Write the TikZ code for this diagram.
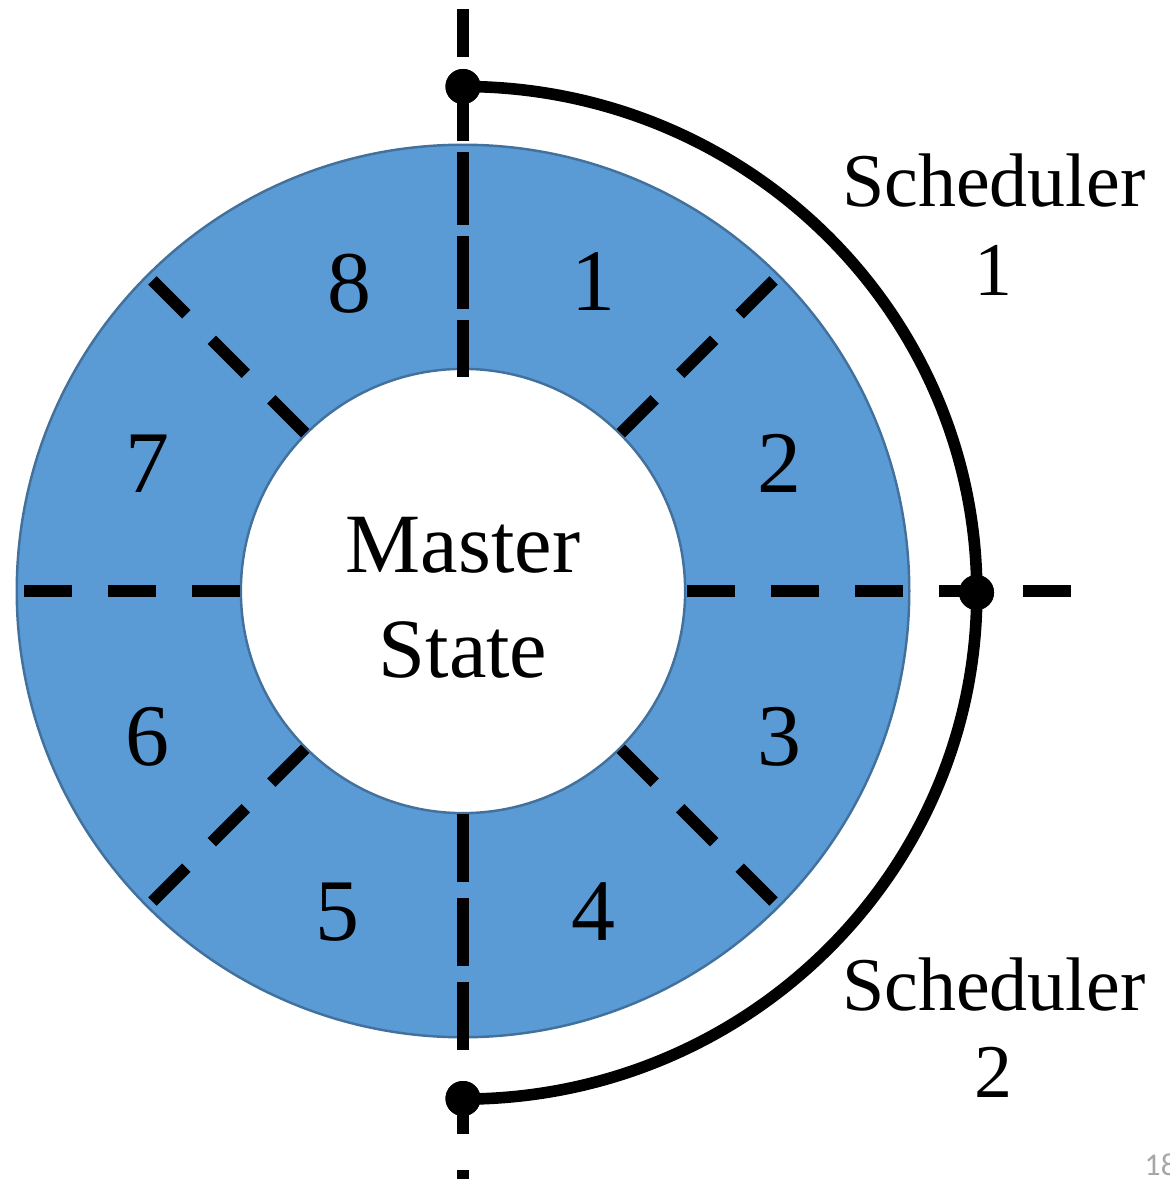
\documentclass[tikz,border=0pt]{standalone}
\usepackage{fontspec}
\setmainfont{Liberation Serif}
\newfontfamily\pagefont{Carlito}
\definecolor{ringblue}{HTML}{5B9BD5}
\definecolor{ringedge}{HTML}{41719C}
\definecolor{pagegray}{HTML}{A6A6A6}
\begin{document}
\begin{tikzpicture}[x=0.01cm,y=-0.01cm,
  ringface/.style={fill=ringblue, even odd rule},
  ringline/.style={draw=ringedge, line width=0.7pt},
  divider/.style={line width=3.4pt, dash pattern=on 0.48cm off 0.36cm},
  schedarc/.style={line width=3.3pt},
  dotnode/.style={circle, fill=black, inner sep=0pt, minimum size=0.35cm},
  numlabel/.style={font=\fontsize{25}{30}\selectfont, anchor=base, inner sep=0pt},
  textlabel/.style={font=\fontsize{24}{29}\selectfont, anchor=base, inner sep=0pt},
  schedlabel/.style={font=\fontsize{21.6}{26}\selectfont, anchor=base, inner sep=0pt}]
\useasboundingbox (0,0) rectangle (1169,1179);
\coordinate (c) at (463,591);
% ring
\fill[ringface] (c) circle[radius=4.46cm] (c) circle[radius=2.22cm];
\draw[ringline] (c) circle[radius=4.46cm];
\draw[ringline] (c) circle[radius=2.22cm];
% long vertical dashed lines
\coordinate (vt1) at (463,9);
\coordinate (vt2) at (463,377);
\coordinate (vb1) at (463,834);
\coordinate (vb2) at (463,1179);
\draw[divider] (vt1) -- (vt2);
\draw[divider] (vb1) -- (vb2);
% radial dividers
\foreach \a in {45,90,...,315}
  \draw[divider] ([shift={(c)}]\a:2.23cm) -- ([shift={(c)}]\a:4.39cm);
\draw[divider] ([shift={(c)}]0:2.24cm) -- ([shift={(c)}]0:6.08cm);
% scheduler arc
\node[dotnode] (dtop) at (463,86.5) {};
\node[dotnode] (dmid) at (976.5,592.5) {};
\node[dotnode] (dbot) at (463,1098.5) {};
\draw[schedarc] (dtop.center) arc[start angle=90, end angle=-90, x radius=5.135cm, y radius=5.06cm];
\node[dotnode] at (dtop) {};
\node[dotnode] at (dmid) {};
\node[dotnode] at (dbot) {};
% segment numbers
\node[numlabel] (n1) at (593,310) {1};
\node[numlabel] (n2) at (779,492) {2};
\node[numlabel] (n3) at (779,765) {3};
\node[numlabel] (n4) at (593,940) {4};
\node[numlabel] (n5) at (337,940) {5};
\node[numlabel] (n6) at (147,765) {6};
\node[numlabel] (n7) at (147,492) {7};
\node[numlabel] (n8) at (349,312) {8};
% master state
\node[textlabel] (ms1) at (463,572) {Master};
\node[textlabel] (ms2) at (463,677) {State};
% scheduler labels
\node[schedlabel] (s1a) at (994,206) {Scheduler};
\node[schedlabel] (s1b) at (993,295) {1};
\node[schedlabel] (s2a) at (994,1010) {Scheduler};
\node[schedlabel] (s2b) at (993,1097) {2};
% page number (cut off at the edge, as in the reference)
\node[font=\pagefont\fontsize{9}{11}\selectfont, text=pagegray, anchor=base west, inner sep=0pt] (pg) at (1144,1175) {18};
\end{tikzpicture}
\end{document}
